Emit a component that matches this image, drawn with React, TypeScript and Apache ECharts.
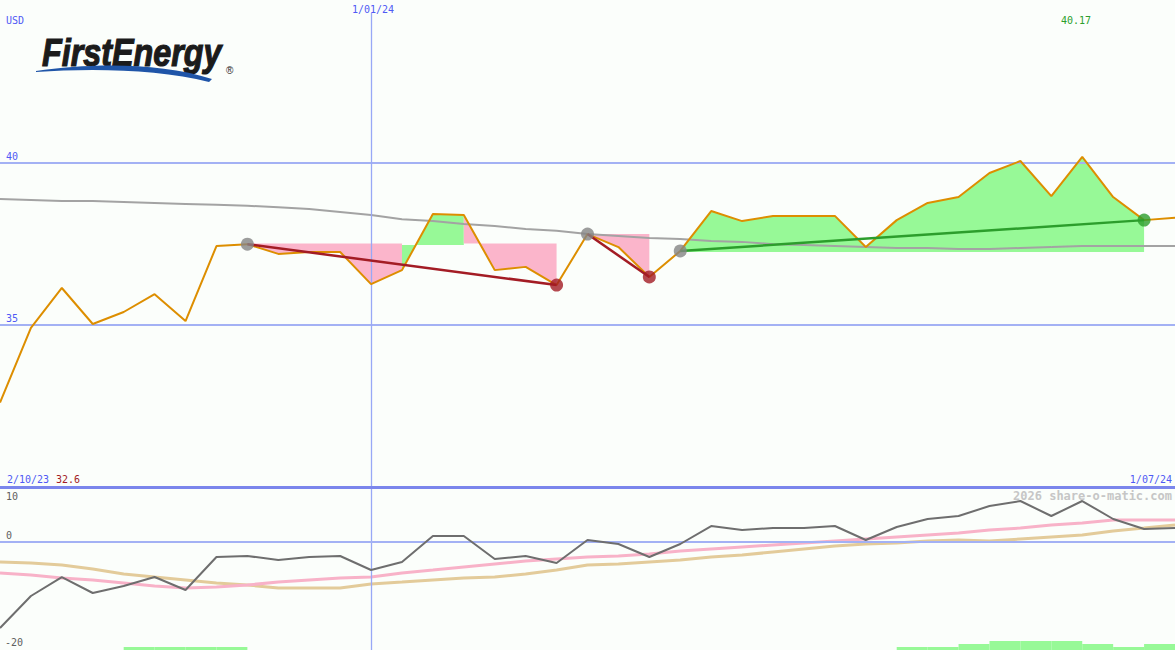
import React, { useEffect, useRef } from "react";
import * as echarts from "echarts";

// ---------- data ----------
const weeks = [
  "9/10/23", "16/10/23", "23/10/23", "30/10/23", "6/11/23", "13/11/23", "20/11/23", "27/11/23",
  "4/12/23", "11/12/23", "18/12/23", "25/12/23", "1/01/24", "8/01/24", "15/01/24", "22/01/24",
  "29/01/24", "5/02/24", "12/02/24", "19/02/24", "26/02/24", "4/03/24", "11/03/24", "18/03/24",
  "25/03/24", "1/04/24", "8/04/24", "15/04/24", "22/04/24", "29/04/24", "6/05/24", "13/05/24",
  "20/05/24", "27/05/24", "3/06/24", "10/06/24", "17/06/24", "24/06/24", "1/07/24",
];
const price = [
  32.6, 34.9, 36.13, 35.02, 35.39, 35.94, 35.11, 37.42, 37.48, 37.18,
  37.24, 37.24, 36.25, 36.68, 38.41, 38.38, 36.68, 36.78, 36.22, 37.79,
  37.39, 36.47, 37.27, 38.5, 38.19, 38.35, 38.35, 38.35, 37.39, 38.22,
  38.75, 38.93, 39.67, 40.04, 38.96, 40.17, 38.93, 38.22, 38.29,
];
const trend = [
  38.87, 38.84, 38.81, 38.81, 38.78, 38.75, 38.72, 38.69, 38.66, 38.62,
  38.56, 38.47, 38.38, 38.25, 38.19, 38.1, 38.04, 37.95, 37.89, 37.79,
  37.73, 37.67, 37.64, 37.58, 37.55, 37.48, 37.45, 37.42, 37.39, 37.36,
  37.36, 37.33, 37.33, 37.36, 37.39, 37.42, 37.42, 37.42, 37.42,
];
const momentum = [
  -15.95, -10.06, -6.57, -9.51, -8.22, -6.57, -8.96, -2.88, -2.7, -3.44,
  -2.88, -2.7, -5.28, -3.8, 0.98, 0.98, -3.25, -2.7, -3.99, 0.24,
  -0.49, -2.88, -0.49, 2.82, 2.08, 2.45, 2.45, 2.82, 0.24, 2.64,
  4.11, 4.66, 6.5, 7.42, 4.66, 7.42, 4.11, 2.27, 2.45,
];
const momentumFast = [
  -5.83, -6.2, -6.75, -7.12, -7.67, -8.22, -8.59, -8.41, -8.04, -7.49,
  -7.12, -6.75, -6.57, -5.83, -5.28, -4.72, -4.17, -3.62, -3.25, -2.88,
  -2.7, -2.33, -1.78, -1.41, -1.04, -0.67, -0.31, 0.06, 0.43, 0.8,
  1.17, 1.53, 2.09, 2.45, 3.01, 3.37, 3.93, 3.93, 3.93,
];
const momentumSlow = [
  -3.8, -3.99, -4.36, -5.09, -6.01, -6.57, -7.12, -7.67, -8.04, -8.59,
  -8.59, -8.59, -7.85, -7.49, -7.12, -6.75, -6.57, -6.01, -5.28, -4.36,
  -4.17, -3.8, -3.44, -2.88, -2.52, -1.96, -1.41, -0.86, -0.49, -0.31,
  0.06, 0.24, 0.06, 0.43, 0.8, 1.17, 1.9, 2.45, 3.01,
];
const volumeBands = [
  0, 0, 0, 0, 1, 1, 1, 1, 0, 0,
  0, 0, 0, 0, 0, 0, 0, 0, 0, 0,
  0, 0, 0, 0, 0, 0, 0, 0, 0, 1,
  1, 2, 3, 3, 3, 2, 1, 2,
];
const priceTicks = [40, 35];
const momentumTicks = [10, 0, -20];
const tradeStart = [8, 19, 22];
const tradeEnd = [18, 21, 37];
const tradeOutcome = ["loss", "loss", "gain"];
const fillStart = [8, 13, 15, 19, 22];
const fillEnd = [13, 15, 18, 21, 37];
const fillBase = [37.5, 37.45, 37.5, 37.79, 37.24];
const fillOutcome = ["loss", "gain", "loss", "loss", "gain"];
const currency = "USD";
const markerDate = "1/01/24";
const lowDate = "2/10/23";
const lowValue = "32.6";
const highValue = "40.17";
const endDate = "1/07/24";
const watermark = "2026 share-o-matic.com";

// ---------- style ----------
const BG = "#fbfefb";
const BLUE_TEXT = "#4f5af5";
const GRID_BLUE = "#a3b1f4";
const VLINE_BLUE = "#98a8f6";
const SEP_BLUE = "#7b86ec";
const ORANGE = "#dd8e00";
const TREND_GRAY = "#a3a3a3";
const PINK_FILL = "#fbb5cb";
const GREEN_FILL = "#97f997";
const DARK_RED = "#a31c24";
const TRADE_GREEN = "#2c9e2c";
const DOT_GRAY = "#858585";
const MOM_GRAY = "#6e6e6e";
const MOM_PINK = "#f8b2c8";
const MOM_TAN = "#e3cb9a";
const LABEL_GRAY = "#606060";
const MONO = '"DejaVu Sans Mono", "Liberation Mono", monospace';
const SWOOSH = "M36 71 C90 63 160 62 212 79 L209 82 C160 69 90 68 36 72 Z";

const outcomeColor = (o: string) => (o === "gain" ? TRADE_GREEN : DARK_RED);
const fillColor = (o: string) => (o === "gain" ? GREEN_FILL : PINK_FILL);

function txt(x: number, y: number, text: string, fill: string, align = "left", font = `10px ${MONO}`) {
  return {
    type: "text",
    x,
    y,
    z: 100,
    silent: true,
    style: { text, fill, font, textAlign: align, align, textVerticalAlign: "middle", verticalAlign: "middle" },
  };
}

export default function App() {
  const ref = useRef<HTMLDivElement>(null);
  useEffect(() => {
    if (!ref.current) return;
    try {
      echarts.graphic.registerShape("swoosh", echarts.graphic.extendPath(SWOOSH, {}));
    } catch (e) {}
    const chart = echarts.init(ref.current, null, { renderer: "svg" });

    const tradeSeries = tradeStart.map((s, k) => ({
      type: "line",
      xAxisIndex: 0,
      yAxisIndex: 0,
      z: 6,
      silent: true,
      showSymbol: false,
      lineStyle: { color: outcomeColor(tradeOutcome[k]), width: 2.5 },
      data: [
        [weeks[s], price[s]],
        [weeks[tradeEnd[k]], price[tradeEnd[k]]],
      ],
    }));

    const option: any = {
      animation: false,
      backgroundColor: BG,
      grid: [
        { left: 0, right: 0, top: 0, height: 487, outerBoundsMode: "none" },
        { left: 0, right: 0, top: 487, height: 163, outerBoundsMode: "none" },
      ],
      xAxis: [
        { type: "category", gridIndex: 0, data: weeks, boundaryGap: false, show: false },
        { type: "category", gridIndex: 1, data: weeks, boundaryGap: false, show: false },
        { type: "category", gridIndex: 1, data: weeks.slice(0, 38), boundaryGap: true, show: false },
      ],
      yAxis: [
        { type: "value", gridIndex: 0, min: 30, max: 45, show: false, splitLine: { show: false } },
        { type: "value", gridIndex: 1, min: -20, max: 10, show: false, splitLine: { show: false } },
        { type: "value", gridIndex: 1, min: 0, max: 163 / 3, show: false, splitLine: { show: false } },
      ],
      series: [
        {
          type: "bar",
          xAxisIndex: 2,
          yAxisIndex: 2,
          z: 1,
          silent: true,
          barWidth: "100%",
          barCategoryGap: "0%",
          itemStyle: { color: GREEN_FILL },
          data: volumeBands,
        },
        {
          type: "custom",
          xAxisIndex: 0,
          yAxisIndex: 0,
          z: 2,
          silent: true,
          data: fillStart.map((s, k) => [s, fillBase[k]]),
          renderItem: (params: any, api: any) => {
            const k = params.dataIndex;
            const s = fillStart[k];
            const e = fillEnd[k];
            const b = fillBase[k];
            const pts: number[][] = [api.coord([s, b])];
            for (let i = s; i <= e; i++) pts.push(api.coord([i, price[i]]));
            pts.push(api.coord([e, b]));
            return { type: "polygon", shape: { points: pts }, style: { fill: fillColor(fillOutcome[k]) } };
          },
        },
        {
          type: "line",
          xAxisIndex: 0,
          yAxisIndex: 0,
          z: 3,
          silent: true,
          showSymbol: false,
          lineStyle: { color: TREND_GRAY, width: 2 },
          data: trend,
          markLine: {
            silent: true,
            symbol: ["none", "none"],
            label: { show: false },
            data: [
              ...priceTicks.map((t) => ({ yAxis: t, lineStyle: { color: GRID_BLUE, width: 2, type: "solid" } })),
              [
                { coord: [markerDate, 44.6], lineStyle: { color: VLINE_BLUE, width: 1.3, type: "solid" } },
                { coord: [markerDate, 30] },
              ],
            ],
          },
        },
        {
          type: "line",
          xAxisIndex: 0,
          yAxisIndex: 0,
          z: 5,
          silent: true,
          showSymbol: false,
          lineStyle: { color: ORANGE, width: 2 },
          data: price,
        },
        ...tradeSeries,
        {
          type: "scatter",
          xAxisIndex: 0,
          yAxisIndex: 0,
          z: 7,
          silent: true,
          symbolSize: 13,
          itemStyle: { color: DOT_GRAY },
          data: tradeStart.map((s) => [weeks[s], price[s]]),
        },
        {
          type: "scatter",
          xAxisIndex: 0,
          yAxisIndex: 0,
          z: 7,
          silent: true,
          symbolSize: 13,
          data: tradeEnd.map((e, k) => ({
            value: [weeks[e], price[e]],
            itemStyle: { color: outcomeColor(tradeOutcome[k]) },
          })),
        },
        {
          type: "line",
          xAxisIndex: 1,
          yAxisIndex: 1,
          z: 3,
          silent: true,
          showSymbol: false,
          lineStyle: { color: MOM_TAN, width: 3 },
          data: momentumSlow,
        },
        {
          type: "line",
          xAxisIndex: 1,
          yAxisIndex: 1,
          z: 4,
          silent: true,
          showSymbol: false,
          lineStyle: { color: MOM_PINK, width: 3 },
          data: momentumFast,
        },
        {
          type: "line",
          xAxisIndex: 1,
          yAxisIndex: 1,
          z: 5,
          silent: true,
          showSymbol: false,
          lineStyle: { color: MOM_GRAY, width: 2 },
          data: momentum,
          markLine: {
            silent: true,
            symbol: ["none", "none"],
            label: { show: false },
            data: [
              [
                { coord: [markerDate, 10], lineStyle: { color: VLINE_BLUE, width: 1.3, type: "solid" } },
                { coord: [markerDate, -20] },
              ],
              { yAxis: 0, lineStyle: { color: GRID_BLUE, width: 2, type: "solid" } },
              { yAxis: 10, lineStyle: { color: SEP_BLUE, width: 3, type: "solid" } },
            ],
          },
        },
      ],
    };
    chart.setOption(option);

    const py = (v: number) => chart.convertToPixel({ yAxisIndex: 0 } as any, v) as number;
    const my = (v: number) => chart.convertToPixel({ yAxisIndex: 1 } as any, v) as number;
    const mx = chart.convertToPixel({ xAxisIndex: 0 } as any, markerDate) as number;

    const graphics: any[] = [
      txt(6, 20, currency, BLUE_TEXT),
      txt(mx + 2, 9, markerDate, BLUE_TEXT, "center"),
      txt(1061, 20, highValue, TRADE_GREEN),
      ...priceTicks.map((t) => txt(6, py(t) - 6, String(t), BLUE_TEXT)),
      txt(7, 479, lowDate, BLUE_TEXT),
      txt(56, 479, lowValue, DARK_RED),
      txt(1172, 479, endDate, BLUE_TEXT, "right"),
      txt(1172, 496, watermark, "#c6c6c6", "right", `bold 12px ${MONO}`),
      txt(6, my(momentumTicks[0]) + 9, String(momentumTicks[0]), LABEL_GRAY),
      txt(6, my(momentumTicks[1]) - 6, String(momentumTicks[1]), LABEL_GRAY),
      txt(5, my(momentumTicks[2]) - 8, String(momentumTicks[2]), LABEL_GRAY),
      {
        type: "text",
        x: 42,
        y: 53,
        z: 100,
        scaleX: 0.85,
        silent: true,
        style: {
          text: "FirstEnergy",
          fill: "#1b1b1b",
          stroke: "#1b1b1b",
          lineWidth: 1.2,
          font: 'italic bold 38px "Liberation Sans", Arial, sans-serif',
          textAlign: "left",
          align: "left",
          textVerticalAlign: "middle",
          verticalAlign: "middle",
        },
      },
      { type: "swoosh", x: 0, y: 0, z: 100, silent: true, style: { fill: "#1f55a8" } },
      txt(226, 70, "®", "#1b1b1b", "left", '10px "Liberation Sans", Arial, sans-serif'),
    ];
    chart.setOption({ graphic: graphics });

    return () => chart.dispose();
  }, []);
  return (
    <div
      ref={ref}
      style={{ position: "fixed", left: 0, top: 0, width: 1175, height: 650, background: BG }}
    />
  );
}
